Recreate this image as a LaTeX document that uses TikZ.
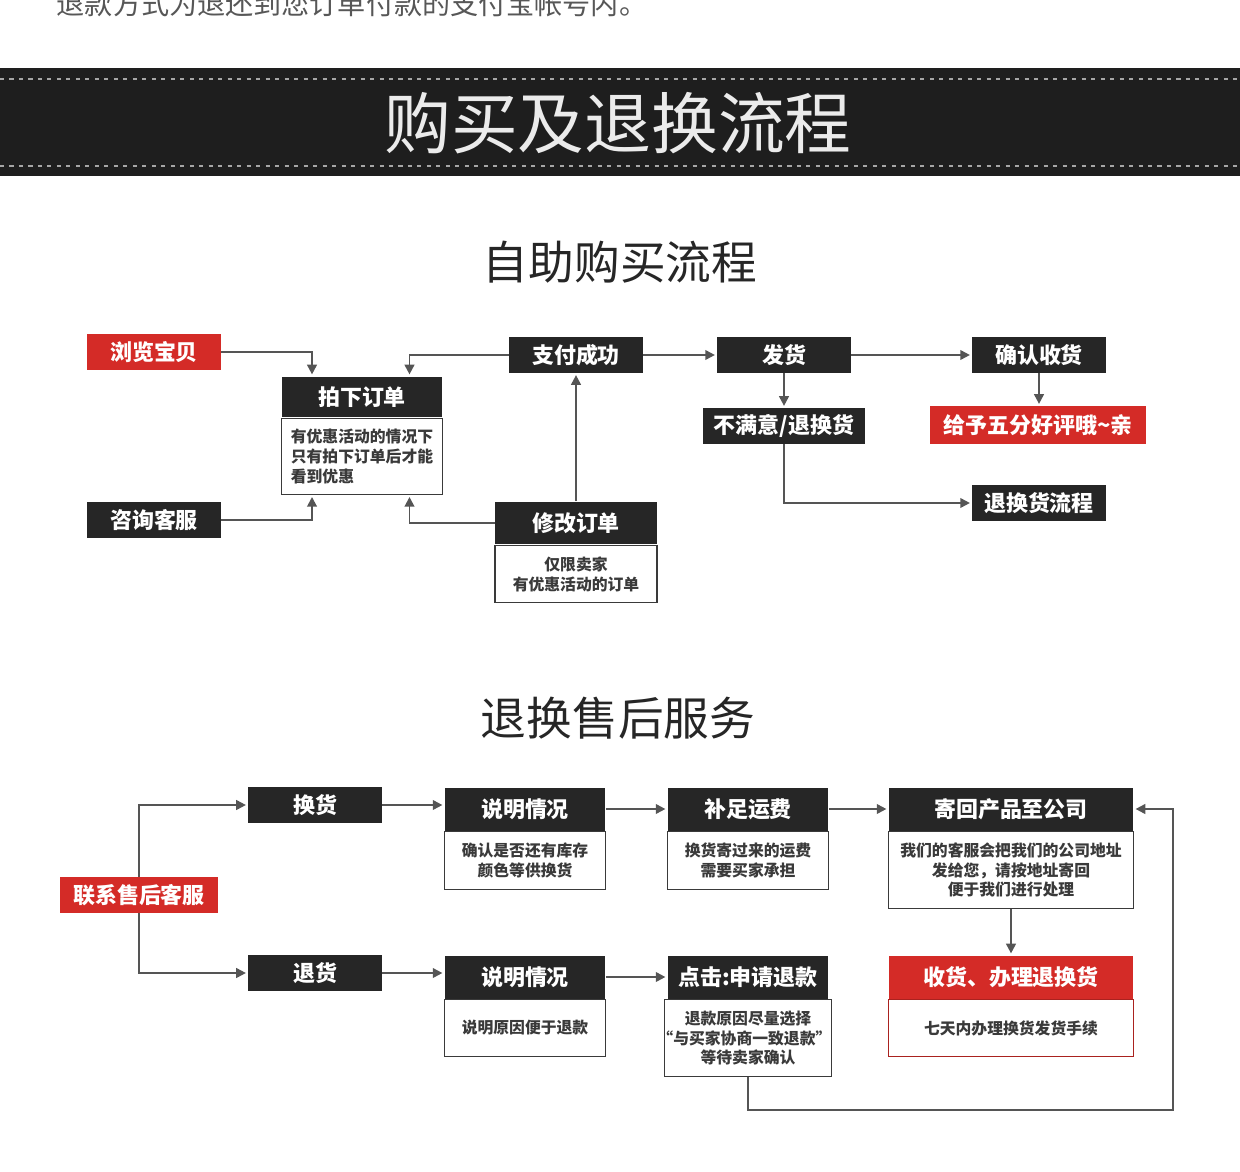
\documentclass[tikz,border=0pt]{standalone}
\usepackage{fontspec}
\setmainfont{Noto Sans CJK SC}
\usetikzlibrary{arrows.meta}

\definecolor{ink}{HTML}{262626}
\definecolor{band}{HTML}{1E1E1E}
\definecolor{brick}{HTML}{D42B27}
\definecolor{wire}{HTML}{555555}
\definecolor{note}{HTML}{3A3A3A}

\newcommand{\tagfont}{\fontsize{12.5}{14}\selectfont\bfseries}
\newcommand{\notefont}{\fontsize{9}{11.3}\selectfont\bfseries}

\tikzset{
  tag/.style={fill=ink, text=white, font=\tagfont, minimum height=0.72cm,
    minimum width=2.68cm, inner sep=0pt},
  redtag/.style={tag, fill=brick},
  head/.style={tag, minimum height=0.86cm, minimum width=3.22cm},
  body/.style={draw=note, line width=0.8pt, fill=white, text=note, font=\notefont,
    align=center, anchor=north, minimum width=3.22cm, inner sep=0pt},
  flow/.style={draw=wire, line width=1.1pt, shorten >=1pt,
    -{Triangle[length=5.5pt,width=5.5pt]}},
  dots/.style={draw=gray!70, line width=1.7pt, dash pattern=on 2.3pt off 3.1pt},
}

\begin{document}
\begin{tikzpicture}[x=0.02cm, y=-0.02cm]

\useasboundingbox (0,0) rectangle (1240,1172);

% --- Ligne coupée en haut ---
\node[font=\fontsize{16}{18}\selectfont, text=note!85] (refundnote) at (352,4)
  {退款方式为退还到您订单付款的支付宝帐号内。};

% --- Bandeau noir ---
\fill[band] (0,68) rectangle (1240,176);
\draw[dots] (0,79) -- (1240,79);
\draw[dots] (0,166) -- (1240,166);
\node[font=\fontsize{38}{42}\selectfont, text=white!92!black] (maintitle) at (618,123)
  {购买及退换流程};

% --- Titres des deux parties ---
\node[font=\fontsize{26}{30}\selectfont, text=ink] (buytitle) at (620,262) {自助购买流程};
\node[font=\fontsize{26}{30}\selectfont, text=ink] (servicetitle) at (618,718) {退换售后服务};

% --- Achat : étiquettes ---
\node[redtag] (browse) at (154,352) {浏览宝贝};
\node[tag] (consult) at (154,520) {咨询客服};
\node[tag] (pay) at (576,355) {支付成功};
\node[tag] (ship) at (784,355) {发货};
\node[tag, minimum width=3.24cm] (unhappy) at (784,426) {不满意/退换货};
\node[tag] (confirm) at (1039,355) {确认收货};
\node[redtag, minimum width=4.34cm, minimum height=0.76cm] (praise) at (1038,425)
  {给予五分好评哦\textasciitilde 亲};
\node[tag] (returnflow) at (1039,503) {退换货流程};

% --- Achat : boîtes avec note ---
\node[head, minimum height=0.82cm] (pai) at (362,397) {拍下订单};
\node[body, align=left, minimum height=1.52cm] (pai-b) at (pai.south)
  {有优惠活动的情况下\\只有拍下订单后才能\\看到优惠};
\node[head, minimum width=3.24cm] (xiugai) at (576,523) {修改订单};
\node[body, minimum width=3.24cm, minimum height=1.14cm] (xiugai-b) at (xiugai.south)
  {仅限卖家\\有优惠活动的订单};

% --- Achat : flèches ---
\draw[flow] (browse.east) -| ([xshift=-1cm]pai.north);
\draw[flow] (pay.west) -| ([xshift=0.95cm]pai.north);
\draw[flow] (consult.east) -| ([xshift=-1cm]pai-b.south);
\draw[flow] (xiugai.west) -| ([xshift=0.95cm]pai-b.south);
\draw[flow] (xiugai.north) -- (pay.south);
\draw[flow] (pay) -- (ship);
\draw[flow] (ship) -- (confirm);
\draw[flow] (ship) -- (unhappy);
\draw[flow] (confirm.south) -- (confirm.south |- praise.north);
\draw[flow] (unhappy.south) |- (returnflow.west);

% --- Service : étiquettes ---
\node[redtag, minimum width=3.16cm] (contact) at (139,895) {联系售后客服};
\node[tag] (swap) at (315,805) {换货};
\node[tag] (refund) at (315,973) {退货};

% --- Service : boîtes avec note ---
\node[head] (shuo) at (525,809) {说明情况};
\node[body, minimum height=1.16cm] (shuo-b) at (shuo.south)
  {确认是否还有库存\\颜色等供换货};
\node[head] (bu) at (748,809) {补足运费};
\node[body, minimum height=1.16cm] (bu-b) at (bu.south)
  {换货寄过来的运费\\需要买家承担};
\node[head, minimum width=4.9cm] (jihui) at (1011,809) {寄回产品至公司};
\node[body, minimum width=4.9cm, minimum height=1.54cm] (jihui-b) at (jihui.south)
  {我们的客服会把我们的公司地址\\发给您，请按地址寄回\\便于我们进行处理};
\node[head] (shuo2) at (525,977) {说明情况};
\node[body, minimum height=1.14cm] (shuo2-b) at (shuo2.south) {说明原因便于退款};
\node[head] (dianji) at (748,977) {点击:申请退款};
\node[body, minimum height=1.54cm] (dianji-b) at (dianji.south)
  {退款原因尽量选择\\\hspace*{-0.45em}“与买家协商一致退款”\hspace*{-0.45em}\\等待卖家确认};
\node[head, fill=brick, minimum width=4.9cm] (shouhuo) at (1011,977) {收货、办理退换货};
\node[body, draw=brick!80!black, minimum width=4.9cm, minimum height=1.14cm] (shouhuo-b)
  at (shouhuo.south) {七天内办理换货发货手续};

% --- Service : flèches ---
\coordinate (loop) at (1173,1110);
\draw[flow] (contact.north) |- (swap.west);
\draw[flow] (contact.south) |- (refund.west);
\draw[flow] (swap.east) -- (swap.east -| shuo.west);
\draw[flow] (shuo) -- (bu);
\draw[flow] (bu) -- (jihui);
\draw[flow] (refund.east) -- (refund.east -| shuo2.west);
\draw[flow] (shuo2) -- (dianji);
\draw[flow] (jihui-b.south) -- (shouhuo.north);
\draw[flow] (dianji-b.south) |- (loop) |- (jihui.east);

\end{tikzpicture}
\end{document}
